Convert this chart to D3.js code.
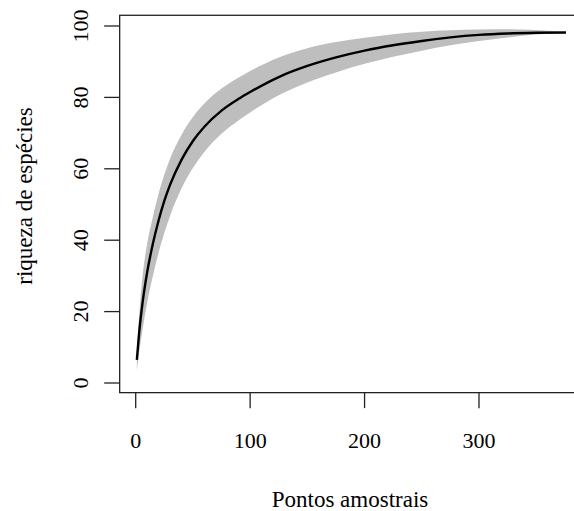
<!DOCTYPE html>
<meta charset="utf-8">
<style>
body { margin: 0; background: #fff; }
text { font-family: "Liberation Serif", "DejaVu Serif", serif; fill: #000; }
</style>
<body>
<svg width="574" height="511"></svg>
<script src="https://d3js.org/d3.v7.min.js"></script>
<script>
// sampling points (number of sample points)
var pontos = [1, 3, 6, 10, 15, 20, 25, 30, 40, 50, 60, 75, 90, 100, 125, 150, 175, 200, 225, 250, 275, 300, 325, 350, 376];
// mean accumulated richness
var riqueza = [6.5, 14, 22.5, 31, 39, 45.5, 51, 55.5, 62.5, 67.8, 71.8, 76.3, 79.6, 81.5, 85.7, 88.8, 91.2, 93.1, 94.6, 95.8, 96.8, 97.5, 97.9, 98.1, 98.2];
// lower / upper limits of the grey band
var inferior = [3.5, 8.5, 15, 22.5, 30, 36.5, 42, 46.8, 54.5, 60.2, 64.7, 69.8, 73.6, 75.8, 80.6, 84.2, 87, 89.4, 91.4, 93.1, 94.6, 95.8, 96.8, 97.6, 98.2];
var superior = [9.5, 19, 30, 39, 46.5, 53, 58.3, 62.8, 69.5, 74.5, 78.3, 82.5, 85.6, 87.4, 91.2, 93.8, 95.5, 96.7, 97.7, 98.4, 98.8, 99, 99.1, 98.9, 98.2];
var xTicks = [0, 100, 200, 300];
var yTicks = [0, 20, 40, 60, 80, 100];

var svg = d3.select("svg");

var x = d3.scaleLinear().domain([0, 300]).range([135.7, 479]),
    y = d3.scaleLinear().domain([0, 100]).range([383, 26]);

var data = pontos.map(function(p, i) {
  return {x: p, m: riqueza[i], lo: inferior[i], hi: superior[i]};
});

var area = d3.area()
    .curve(d3.curveMonotoneX)
    .x(function(d) { return x(d.x); })
    .y0(function(d) { return y(d.lo); })
    .y1(function(d) { return y(d.hi); });

var line = d3.line()
    .curve(d3.curveMonotoneX)
    .x(function(d) { return x(d.x); })
    .y(function(d) { return y(d.m); });

svg.append("path")
    .datum(data)
    .attr("d", area)
    .attr("fill", "#bebebe");

svg.append("path")
    .datum(data)
    .attr("d", line)
    .attr("fill", "none")
    .attr("stroke", "#000")
    .attr("stroke-width", 2.4);

// box
var boxL = x(-14), boxR = x(391), boxT = y(103), boxB = y(-2.7);
svg.append("rect")
    .attr("x", boxL).attr("y", boxT)
    .attr("width", boxR - boxL).attr("height", boxB - boxT)
    .attr("fill", "none").attr("stroke", "#222").attr("stroke-width", 1.3);

// x axis ticks
svg.selectAll(".xt").data(xTicks).enter().append("line")
    .attr("x1", function(d) { return x(d); }).attr("x2", function(d) { return x(d); })
    .attr("y1", boxB).attr("y2", boxB + 15.5)
    .attr("stroke", "#222").attr("stroke-width", 1.3);

svg.selectAll(".xl").data(xTicks).enter().append("text")
    .attr("x", function(d) { return x(d); })
    .attr("y", 448)
    .attr("text-anchor", "middle")
    .style("font-size", "22px")
    .text(function(d) { return d; });

// y axis ticks
svg.selectAll(".yt").data(yTicks).enter().append("line")
    .attr("x1", boxL).attr("x2", boxL - 15.5)
    .attr("y1", function(d) { return y(d); }).attr("y2", function(d) { return y(d); })
    .attr("stroke", "#222").attr("stroke-width", 1.3);

svg.selectAll(".yl").data(yTicks).enter().append("text")
    .attr("transform", function(d) { return "translate(88," + y(d) + ") rotate(-90)"; })
    .attr("text-anchor", "middle")
    .style("font-size", "22px")
    .text(function(d) { return d; });

// axis titles
svg.append("text")
    .attr("x", 350).attr("y", 507)
    .attr("text-anchor", "middle")
    .style("font-size", "23px")
    .text("Pontos amostrais");

svg.append("text")
    .attr("transform", "translate(32,196) rotate(-90)")
    .attr("text-anchor", "middle")
    .style("font-size", "23px")
    .text("riqueza de espécies");
</script>
</body>
